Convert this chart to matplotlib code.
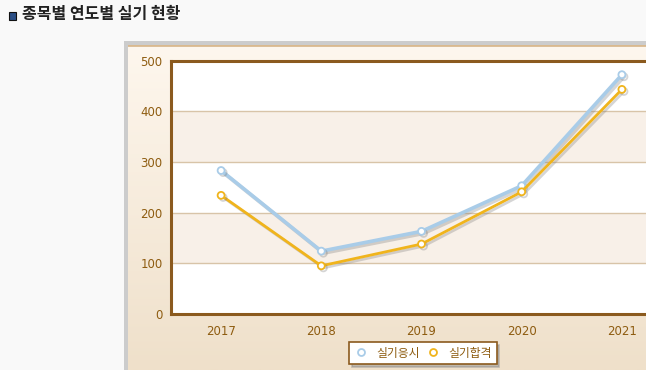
import numpy as np
import matplotlib.pyplot as plt
import matplotlib.patheffects as pe
from matplotlib.patches import Rectangle

plt.rcParams['font.family'] = ['DejaVu Sans', 'Noto Sans CJK KR']

years = ['2017', '2018', '2019', '2020', '2021']
applied = [283, 124, 163, 253, 472]   # 실기응시
passed = [234, 95, 138, 241, 443]     # 실기합격
yticks = [0, 100, 200, 300, 400, 500]

W, H = 646, 370
fig = plt.figure(figsize=(W / 100, H / 100), dpi=100, facecolor='#f9f9f9')

# title with small icon
fig.patches.append(Rectangle((9 / W, 1 - 20 / H), 7 / W, 8 / H, transform=fig.transFigure,
                             facecolor='#2b4f86', edgecolor='#111111', linewidth=0.8))
fig.text(22 / W, 1 - 14.5 / H, '종목별 연도별 실기 현황', fontsize=11.5, fontweight='bold',
         family=['Noto Sans CJK KR', 'DejaVu Sans'], color='#222222', va='center', ha='left')

# outer panel: gray border then gradient
border = fig.add_axes([124 / W, 0, 1, (370 - 41) / H], zorder=-2)
border.set_facecolor('#cccccc')
border.set_xticks([])
border.set_yticks([])
for s in border.spines.values():
    s.set_visible(False)

bg = fig.add_axes([128 / W, 0, 1, (370 - 45) / H], zorder=-1)
grad = np.linspace(0, 1, 256).reshape(-1, 1)
top = np.array([0xfe, 0xf7, 0xee]) / 255
bot = np.array([0xef, 0xe0, 0xca]) / 255
img = top + (bot - top) * grad[:, :, None]
bg.imshow(img, aspect='auto', extent=[0, 1, 0, 1], origin='upper')
bg.axhline(1, color='#d9b98f', linewidth=2)
bg.axis('off')

# plot area
ax = fig.add_axes([171 / W, (370 - 314) / H, 501 / W, 253.5 / H], zorder=1)
ax.set_facecolor('white')
for i in range(len(yticks) - 1):
    if i % 2 == 1:
        ax.axhspan(yticks[i], yticks[i + 1], color='#f8f0e8', zorder=0, linewidth=0)
for t in yticks[1:-1]:
    ax.axhline(t, color='#d8c4a8', linewidth=1, zorder=1)

x = np.arange(len(years))
shadow = [pe.SimpleLineShadow(offset=(1.5, -1.5), shadow_color='#777777', alpha=0.3), pe.Normal()]
ax.plot(x, applied, color='#a9cce8', linewidth=2.6, marker='o', markersize=5,
        markerfacecolor='white', markeredgecolor='#a9cce8', markeredgewidth=1.3,
        path_effects=shadow, zorder=3, label='실기응시', clip_on=False)
ax.plot(x, passed, color='#f0b41c', linewidth=2.0, marker='o', markersize=5,
        markerfacecolor='white', markeredgecolor='#f0b41c', markeredgewidth=1.3,
        path_effects=shadow, zorder=4, label='실기합격', clip_on=False)

ax.set_xlim(-0.5, len(years) - 0.5)
ax.set_ylim(0, 500)
ax.set_yticks(yticks)
ax.set_xticks(x)
ax.set_xticklabels(years)
ax.tick_params(length=0, labelsize=8.5, labelcolor='#8e5c10', pad=6)
ax.tick_params(axis='x', pad=8)
for s in ['left', 'bottom', 'top']:
    ax.spines[s].set_color('#8b5a1e')
    ax.spines[s].set_linewidth(2.2)
ax.spines['right'].set_visible(False)

leg = fig.legend(loc='center', bbox_to_anchor=(423 / W, 1 - 353 / H), ncol=2,
                 prop={'family': ['Noto Sans CJK KR', 'DejaVu Sans'], 'size': 8.5},
                 frameon=True, fancybox=False, shadow={'color': '#888888', 'alpha': 0.45},
                 handlelength=1.2, handletextpad=0.7, columnspacing=0.5, borderpad=0.4)
leg.get_frame().set_edgecolor('#8b5a1e')
leg.get_frame().set_linewidth(1.2)
for h in leg.get_lines():
    h.set_linestyle('none')
    h.set_path_effects([])
for t in leg.get_texts():
    t.set_color('#8e5c10')

fig.savefig('out.png', dpi=100, facecolor=fig.get_facecolor())
